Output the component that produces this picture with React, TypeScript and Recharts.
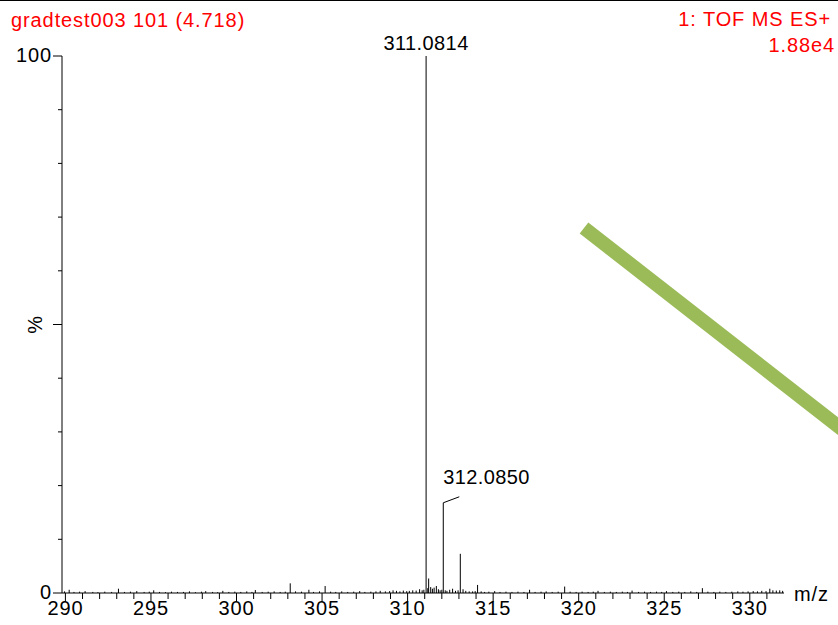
import {
  ComposedChart,
  XAxis,
  YAxis,
  Scatter,
  ReferenceLine,
  ReferenceDot,
} from "recharts";

const FONT = '"Liberation Sans", Arial, Helvetica, sans-serif';

// labelled ions: m/z and relative intensity (%)
const labelledMz = [311.0814, 312.085];
const labelledPct = [100, 16.8];

// other visible peaks and baseline noise, [m/z, %]
const minorPeaks: [number, number][] = [
  [289.95, 0.3], [290.22, 0.6], [290.5, 0.2], [290.83, 0.25], [291.15, 0.35],
  [291.6, 0.2], [291.9, 0.15], [292.3, 0.25], [292.7, 0.2], [293.1, 0.8],
  [293.45, 0.2], [293.8, 0.25], [294.17, 0.35], [294.6, 0.2], [294.9, 0.25],
  [295.16, 0.5], [295.5, 0.2], [295.85, 0.15], [296.2, 0.25], [296.55, 0.2],
  [296.9, 0.2], [297.25, 0.3], [297.6, 0.15], [297.95, 0.25], [298.2, 0.35],
  [298.6, 0.2], [298.9, 0.15], [299.2, 0.4], [299.55, 0.2], [299.9, 0.25],
  [300.25, 0.2], [300.6, 0.3], [300.9, 0.2], [301.1, 0.55], [301.5, 0.2],
  [301.85, 0.25], [302.2, 0.3], [302.55, 0.2], [302.85, 0.25], [303.14, 1.8],
  [303.45, 0.3], [303.8, 0.25], [304.23, 0.6], [304.5, 0.2], [304.85, 0.3],
  [305.18, 1.3], [305.5, 0.25], [305.8, 0.2], [306.15, 0.3], [306.5, 0.2],
  [306.85, 0.25], [307.2, 0.35], [307.5, 0.2], [307.85, 0.25], [308.15, 0.3],
  [308.4, 0.4], [308.7, 0.3], [308.95, 0.35], [309.15, 0.5], [309.35, 0.4],
  [309.55, 0.3], [309.75, 0.45], [309.95, 0.35], [310.1, 0.4], [310.3, 0.5],
  [310.5, 0.45], [310.7, 0.7], [310.85, 0.5], [310.95, 0.6], [311.18, 0.9],
  [311.23, 2.7], [311.35, 1.1], [311.45, 0.8], [311.55, 1.0], [311.68, 1.3],
  [311.8, 0.7], [311.9, 0.5], [312.0, 0.6], [312.2, 0.5], [312.3, 0.4],
  [312.46, 0.6], [312.63, 0.8], [312.8, 0.4], [312.95, 0.5], [313.08, 7.3],
  [313.24, 0.7], [313.4, 0.4], [313.6, 0.3], [313.8, 0.3], [313.95, 0.35],
  [314.09, 1.5], [314.3, 0.3], [314.5, 0.2], [314.75, 0.25], [315.09, 0.35],
  [315.4, 0.2], [315.75, 0.25], [316.1, 0.2], [316.45, 0.25], [316.8, 0.2],
  [317.13, 0.6], [317.45, 0.2], [317.8, 0.25], [318.1, 0.3], [318.45, 0.2],
  [318.8, 0.25], [319.18, 1.2], [319.5, 0.25], [319.85, 0.2], [320.2, 0.25],
  [320.55, 0.2], [320.85, 0.25], [321.13, 0.4], [321.5, 0.2], [321.85, 0.25],
  [322.2, 0.2], [322.55, 0.25], [322.85, 0.2], [323.12, 0.45], [323.5, 0.2],
  [323.85, 0.25], [324.2, 0.2], [324.55, 0.25], [324.85, 0.2], [325.13, 0.35],
  [325.5, 0.2], [325.85, 0.25], [326.2, 0.2], [326.55, 0.3], [326.9, 0.2],
  [327.23, 0.9], [327.55, 0.25], [327.9, 0.2], [328.25, 0.25], [328.6, 0.2],
  [328.95, 0.25], [329.3, 0.3], [329.6, 0.25], [329.9, 0.3], [330.2, 0.35],
  [330.45, 0.3], [330.7, 0.4], [330.95, 0.35], [331.17, 0.8], [331.35, 0.5],
  [331.55, 0.45], [331.75, 0.5], [331.92, 0.4],
];

const mzTicks = [
  290, 291, 292, 293, 294, 295, 296, 297, 298, 299, 300, 301, 302, 303,
  304, 305, 306, 307, 308, 309, 310, 311, 312, 313, 314, 315, 316, 317,
  318, 319, 320, 321, 322, 323, 324, 325, 326, 327, 328, 329, 330, 331,
];
const pctTicks = [0, 10, 20, 30, 40, 50, 60, 70, 80, 90, 100];

const peaks = [
  ...labelledMz.map((mz, i) => ({ mz, pct: labelledPct[i] })),
  ...minorPeaks.map(([mz, pct]) => ({ mz, pct })),
];

const textStyle = { fontFamily: FONT, fontSize: 20, letterSpacing: 0.9 };

function MzTick({ x, y, payload }: any) {
  const v = payload.value;
  const major = v % 5 === 0;
  return (
    <g>
      <line x1={x} x2={x} y1={y} y2={y + (major ? 9 : 6)} stroke="#000" />
      {major && (
        <text x={x} y={y + 22} textAnchor="middle" fill="#000" style={textStyle}>
          {v}
        </text>
      )}
    </g>
  );
}

function PctTick({ x, y, payload }: any) {
  const v = payload.value;
  const major = v % 50 === 0;
  return (
    <g>
      <line x1={x - (major ? 9 : 4)} x2={x} y1={y} y2={y} stroke="#000" />
      {(v === 0 || v === 100) && (
        <text x={x - 10} y={y + 6} textAnchor="end" fill="#000" style={textStyle}>
          {v}
        </text>
      )}
      {v === 50 && (
        <text
          x={x - 27}
          y={y}
          textAnchor="middle"
          dominantBaseline="central"
          transform={`rotate(-90 ${x - 27} ${y})`}
          fill="#000"
          style={textStyle}
        >
          %
        </text>
      )}
    </g>
  );
}

// centred mass label above the base peak
function TopTag(text: string) {
  return (props: any) => {
    const { x, y } = props.viewBox;
    return (
      <text x={x} y={y - 6} textAnchor="middle" fill="#000" style={{ ...textStyle, letterSpacing: 0.4 }}>
        {text}
      </text>
    );
  };
}

// mass label offset to the right, with a short leader line
function SideTag(text: string) {
  return (props: any) => {
    const { x, y } = props.viewBox;
    return (
      <g>
        <line x1={x} y1={y} x2={x + 16} y2={y - 6} stroke="#000" />
        <text x={x} y={y - 19} fill="#000" style={{ ...textStyle, letterSpacing: 0.4 }}>
          {text}
        </text>
      </g>
    );
  };
}

const nothing = () => <g />;

export default function App() {
  return (
    <div style={{ position: "absolute", left: 0, top: 0, width: 838, height: 625, background: "#fff" }}>
      <ComposedChart
        width={838}
        height={625}
        data={peaks}
        margin={{ top: 56, right: 54, bottom: 0, left: 0 }}
      >
        <XAxis
          type="number"
          dataKey="mz"
          domain={[289.8, 332]}
          ticks={mzTicks}
          interval={0}
          height={32}
          tickSize={0}
          tickMargin={0}
          tickLine={false}
          tick={<MzTick />}
          axisLine={{ stroke: "#000" }}
          allowDataOverflow
        />
        <YAxis
          type="number"
          domain={[0, 100]}
          ticks={pctTicks}
          interval={0}
          width={62}
          tickSize={0}
          tickMargin={0}
          tickLine={false}
          tick={<PctTick />}
          axisLine={{ stroke: "#000" }}
          allowDataOverflow
        />
        <Scatter dataKey="pct" shape={nothing} isAnimationActive={false} />
        {peaks.map((p, i) => (
          <ReferenceLine
            key={i}
            segment={[
              { x: p.mz, y: 0 },
              { x: p.mz, y: p.pct },
            ]}
            stroke="#000"
            strokeWidth={1}
          />
        ))}
        <ReferenceDot x={labelledMz[0]} y={labelledPct[0]} r={0} stroke="none" fill="none" label={TopTag("311.0814")} />
        <ReferenceDot x={labelledMz[1]} y={labelledPct[1]} r={0} stroke="none" fill="none" label={SideTag("312.0850")} />
      </ComposedChart>
      <svg
        width={838}
        height={625}
        style={{ position: "absolute", left: 0, top: 0, pointerEvents: "none" }}
      >
        <line x1={0} x2={838} y1={0.5} y2={0.5} stroke="#000" />
        <text x={11} y={27} fill="#ff0000" style={textStyle}>
          gradtest003 101 (4.718)
        </text>
        <text x={831} y={26} textAnchor="end" fill="#ff0000" style={textStyle}>
          1: TOF MS ES+
        </text>
        <text x={835} y={52} textAnchor="end" fill="#ff0000" style={textStyle}>
          1.88e4
        </text>
        <text x={794} y={601} fill="#000" style={textStyle}>
          m/z
        </text>
        <line x1={584} y1={228} x2={870} y2={451} stroke="#9bbb59" strokeWidth={14} />
      </svg>
    </div>
  );
}
